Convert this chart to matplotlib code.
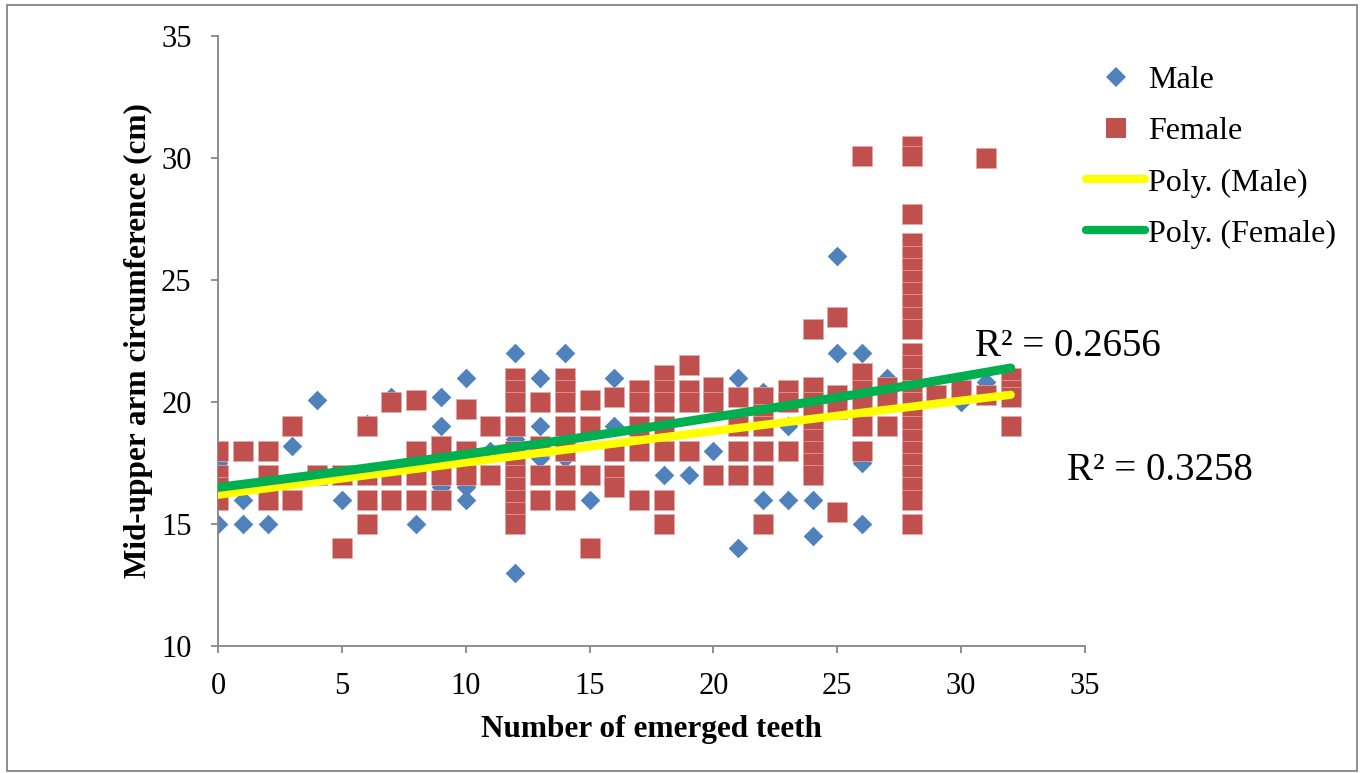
import numpy as np
import matplotlib.pyplot as plt
from matplotlib.lines import Line2D
from matplotlib.patches import Rectangle

plt.rcParams['font.family'] = ['Liberation Serif', 'DejaVu Serif']

# Male: number of emerged teeth vs mid-upper arm circumference (cm)
male_teeth = [0, 0, 1, 1, 2, 3, 4, 5, 6, 7, 8, 9, 9, 9, 10, 10, 10, 11,
              12, 12, 12, 13, 13, 13, 14, 14, 15, 16, 16, 18, 18, 19, 20,
              21, 21, 22, 22, 23, 23, 24, 24, 25, 25, 26, 26, 26, 27, 30, 31]
male_muac = [17.5, 15, 16, 15, 15, 18.2, 20.1, 16, 19.1, 20.2, 15, 20.2, 19, 16.5,
             21, 16.5, 16, 18, 22, 18.5, 13, 21, 19, 17.7, 22, 17.7, 16, 21, 19,
             19, 17, 17, 18, 21, 14, 20.4, 16, 19, 16, 16, 14.5, 26, 22, 22, 17.5,
             15, 21, 20, 20.8]

# Female
female_teeth = ([0] * 4 + [1] + [2] * 3 + [3] * 2 + [4] + [5] * 2 + [6] * 4
                + [7] * 3 + [8] * 4 + [9] * 3 + [10] * 3 + [11] * 2 + [12] * 11
                + [13] * 4 + [14] * 7 + [15] * 4 + [16] * 4 + [17] * 5 + [18] * 7
                + [19] * 4 + [20] * 3 + [21] * 4 + [22] * 6 + [23] * 3 + [24] * 9
                + [25] * 4 + [26] * 6 + [27] * 3 + [28] * 25 + [29] + [30]
                + [31] * 2 + [32] * 4)
female_muac = [18, 17, 16.5, 16,
               18,
               18, 17, 16,
               19, 16,
               17,
               17, 14,
               19, 17, 16, 15,
               20, 17, 16,
               20.1, 18, 17, 16,
               18.2, 17, 16,
               19.7, 18, 17,
               19, 17,
               21, 20.5, 20, 19, 18, 17.5, 17, 16.5, 16, 15.5, 15,
               20, 18.2, 17, 16,
               21, 20.5, 20, 19, 18, 17, 16,
               20.1, 19, 17, 14,
               20.2, 18, 17, 16.5,
               20.5, 20, 19, 18, 16,
               21.1, 20.5, 20, 19, 18, 16, 15,
               21.5, 20.5, 20, 18,
               20.6, 20, 17,
               20.2, 19, 18, 17,
               20.2, 19.5, 19, 18, 17, 15,
               20.5, 20, 18,
               23, 20.6, 20, 19.5, 19, 18.5, 18, 17.5, 17,
               23.5, 20.3, 19.7, 15.5,
               30.1, 21.2, 20.5, 20, 19, 18,
               20.6, 20.2, 19,
               30.5, 30.1, 27.7, 26.5, 26, 25.5, 25, 24.5, 24, 23.5, 23, 22, 21.5,
               21, 20.5, 20, 19.5, 19, 18.5, 18, 17.5, 17, 16.5, 16, 15,
               20.3,
               20.5,
               30, 20.3,
               21, 20.5, 20.2, 19]

# 2nd-order polynomial trend coefficients (highest power first) and R² values
male_poly = [-0.0002, 0.1344, 16.2]
female_poly = [0.00078, 0.128, 16.5]
male_r2 = 0.3258
female_r2 = 0.2656

W, H = 1364, 773
fig = plt.figure(figsize=(W / 100, H / 100), dpi=100)
ax = fig.add_axes([218 / W, 1 - 646 / H, (1085 - 218) / W, (646 - 36) / H])

blue = '#4F81BD'
red = '#C0504D'
yellow = '#FFFF00'
green = '#00B050'

ax.scatter(male_teeth, male_muac, marker='D', s=100, color=blue, linewidths=0, zorder=2)
ax.scatter(female_teeth, female_muac, marker='s', s=200, color=red,
           edgecolors='#E3A9A7', linewidths=0.5, zorder=3)

xt = np.linspace(0, 32, 100)
ax.plot(xt, np.polyval(male_poly, xt), color=yellow, lw=6, solid_capstyle='round', zorder=4)
ax.plot(xt, np.polyval(female_poly, xt), color=green, lw=6.5, solid_capstyle='round', zorder=5)

ax.set_xlim(0, 35)
ax.set_ylim(10, 35)
ax.set_xticks(range(0, 36, 5))
ax.set_yticks(range(10, 36, 5))
for s in ['top', 'right']:
    ax.spines[s].set_visible(False)
for s in ['left', 'bottom']:
    ax.spines[s].set_color('#868686')
    ax.spines[s].set_linewidth(1.3)
ax.tick_params(axis='both', direction='out', length=5, width=1.3, color='#868686',
               labelsize=22)
ax.tick_params(axis='y', pad=14)
ax.tick_params(axis='x', pad=14)

ax.set_xlabel('Number of emerged teeth', fontsize=22.5, fontweight='bold', labelpad=10)
ax.set_ylabel('Mid-upper arm circumference (cm)', fontsize=22.5, fontweight='bold', labelpad=6)

ax.text(975 / W, 1 - 346 / H, f'R² = {female_r2:.4f}', transform=fig.transFigure,
        fontsize=28, va='center', ha='left')
ax.text(1067 / W, 1 - 470 / H, f'R² = {male_r2:.4f}', transform=fig.transFigure,
        fontsize=28, va='center', ha='left')

handles = [
    Line2D([], [], ls='none', marker='D', ms=10, color=blue, mew=0),
    Line2D([], [], ls='none', marker='s', ms=14, color=red, mew=0),
    Line2D([], [], color=yellow, lw=6, solid_capstyle='round'),
    Line2D([], [], color=green, lw=6, solid_capstyle='round'),
]
labels = ['Male', 'Female', 'Poly. (Male)', 'Poly. (Female)']
fig.legend(handles, labels, loc='upper left', bbox_to_anchor=(1086 / W, 1 - 66 / H),
           frameon=False, fontsize=23, handlelength=1.85, handletextpad=0.1,
           labelspacing=0.68, borderpad=0, borderaxespad=0)

# outer chart border
fig.patches.append(Rectangle((7 / W, 2 / H), 1350 / W, 766 / H, transform=fig.transFigure,
                             fill=False, edgecolor='#868686', lw=1.3))

fig.savefig('out.png', dpi=100)
